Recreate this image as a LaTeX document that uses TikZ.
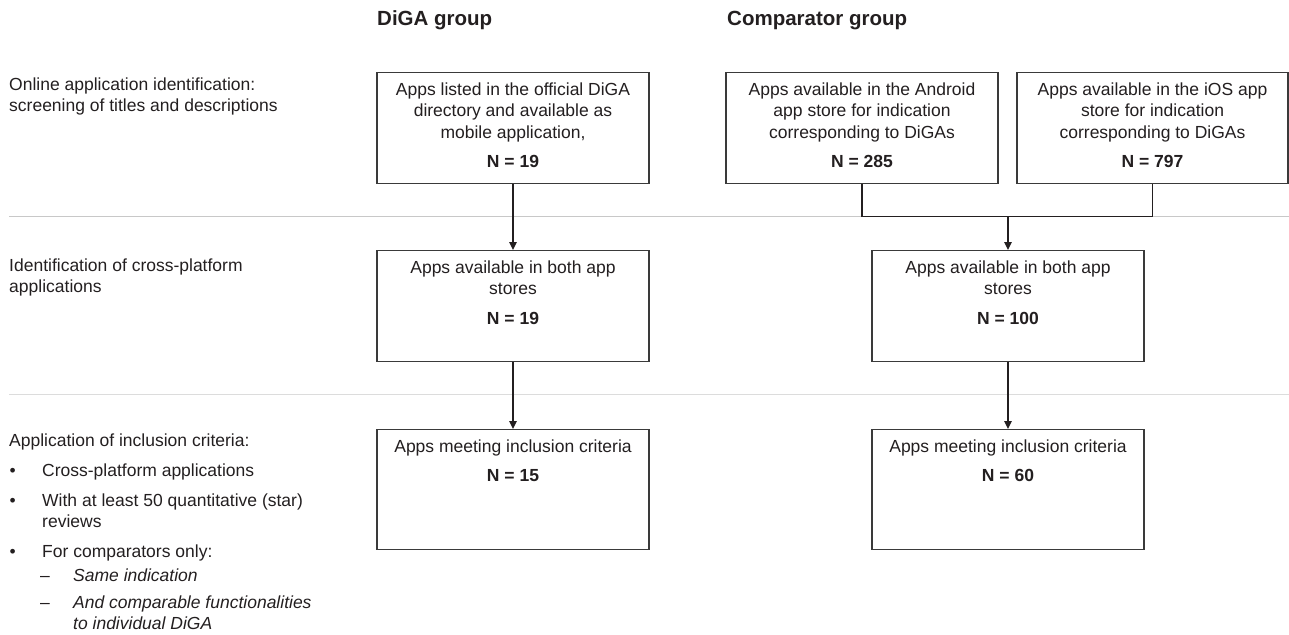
\documentclass[tikz,border=0pt]{standalone}
\usepackage{fontspec}
\setmainfont{Liberation Sans}
\usetikzlibrary{arrows.meta}
\definecolor{txt}{HTML}{231F20}
\definecolor{boxline}{HTML}{3A3A3A}
\definecolor{sepA}{HTML}{C8C8C8}
\definecolor{sepB}{HTML}{DCDCDC}
\newcommand\bxt[3]{\parbox[t][#2][t]{#1}{\centering\rule{0pt}{23pt}#3}}
\begin{document}
\begin{tikzpicture}[x=1pt,y=-1pt,
  every node/.style={text=txt, inner sep=0pt, font=\fontsize{17.5}{21.3}\selectfont},
  flowbox/.style={draw=boxline, line width=1.2pt, anchor=north, fill=white},
  lbl/.style={anchor=base west},
  head/.style={anchor=base west, font=\fontsize{20.5}{24}\selectfont\bfseries},
  conn/.style={draw=txt, line width=1.3pt},
  arr/.style={conn, -{Triangle[length=8pt,width=7.5pt]}},
  sepa/.style={draw=sepA, line width=1pt},
  sepb/.style={draw=sepB, line width=1.6pt}]
\useasboundingbox (0,0) rectangle (1289,634);

% separators
\coordinate (s1a) at (9,216.5);
\coordinate (s1b) at (1289,216.5);
\coordinate (s2a) at (9,394.5);
\coordinate (s2b) at (1289,394.5);
\draw[sepa] (s1a) -- (s1b);
\draw[sepb] (s2a) -- (s2b);

% headings
\node[head] (hd) at (377,25.5) {DiGA group};
\node[head] (hc) at (727,25.5) {Comparator group};

% left labels
\node[lbl] (l1) at (9,90.7) {\parbox[t]{330pt}{Online application identification:\\screening of titles and descriptions}};
\node[lbl] (l2) at (9,271.5) {\parbox[t]{330pt}{Identification of cross-platform\\applications}};
\node[lbl] (l3) at (9,446) {Application of inclusion criteria:};
\node[lbl] (b1) at (9.5,476) {•};
\node[lbl] (t1) at (42,476) {Cross-platform applications};
\node[lbl] (b2) at (9.5,506) {•};
\node[lbl] (t2) at (42,506) {\parbox[t]{300pt}{With at least 50 quantitative (star)\\reviews}};
\node[lbl] (b3) at (9.5,557) {•};
\node[lbl] (t3) at (42,557) {For comparators only:};
\node[lbl] (d1m) at (40,581) {–};
\node[lbl] (u1) at (73,581) {\itshape Same indication};
\node[lbl] (d2m) at (40,608) {–};
\node[lbl] (u2) at (73,608) {\parbox[t]{300pt}{\itshape And comparable functionalities\\to individual DiGA}};

\coordinate (m) at (1008,216.5);

% boxes
\node[flowbox] (d1) at (513,72) {\bxt{272pt}{111pt}{Apps listed in the official DiGA\\directory and available as\\mobile application,\\[8pt]\textbf{N = 19}}};
\node[flowbox] (a1) at (862,72) {\bxt{272pt}{111pt}{Apps available in the Android\\app store for indication\\corresponding to DiGAs\\[8pt]\textbf{N = 285}}};
\node[flowbox] (i1) at (1152.5,72) {\bxt{271pt}{111pt}{Apps available in the iOS app\\store for indication\\corresponding to DiGAs\\[8pt]\textbf{N = 797}}};
\node[flowbox] (d2) at (513,250) {\bxt{272pt}{111pt}{Apps available in both app\\stores\\[8.5pt]\textbf{N = 19}}};
\node[flowbox] (c2) at (1008,250) {\bxt{272pt}{111pt}{Apps available in both app\\stores\\[8.5pt]\textbf{N = 100}}};
\node[flowbox] (d3) at (513,429) {\bxt{272pt}{120pt}{Apps meeting inclusion criteria\\[8pt]\textbf{N = 15}}};
\node[flowbox] (c3) at (1008,429) {\bxt{272pt}{120pt}{Apps meeting inclusion criteria\\[8pt]\textbf{N = 60}}};

\draw[arr] (d1.south) -- (d2.north);
\draw[conn] (a1.south) |- (m);
\draw[conn] (i1.south) |- (m);
\draw[arr] (m) -- (c2.north);
\draw[arr] (d2.south) -- (d3.north);
\draw[arr] (c2.south) -- (c3.north);
\end{tikzpicture}
\end{document}
